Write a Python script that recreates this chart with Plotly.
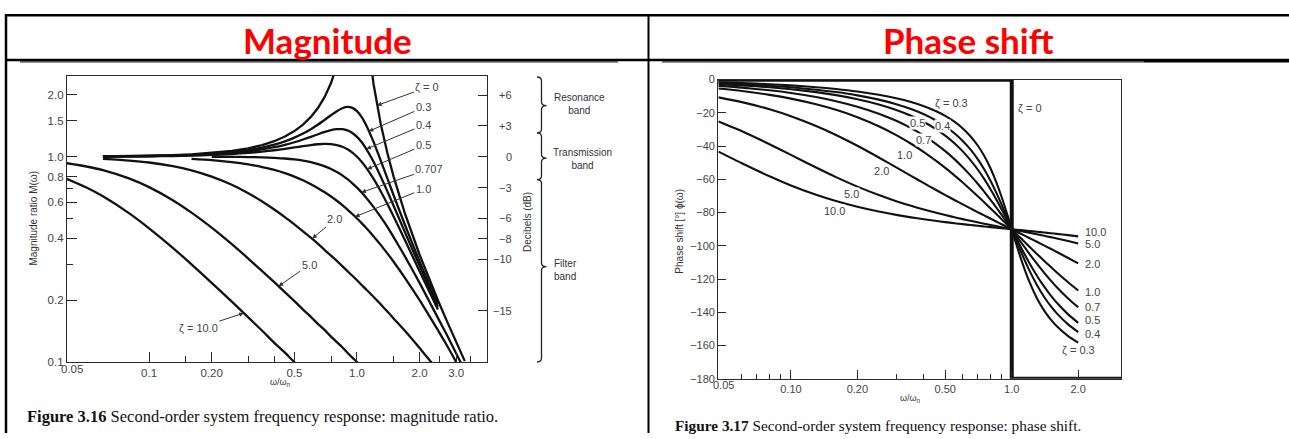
import math
import plotly.graph_objects as go

W, H = 1289, 439

# ---------------- Magnitude ratio data (Fig. 3.16) ----------------
R_MAG = [0.04, 0.05, 0.06, 0.08, 0.1, 0.13, 0.16, 0.2, 0.25, 0.3, 0.35, 0.4, 0.45, 0.5,
         0.55, 0.6, 0.65, 0.7, 0.75, 0.8, 0.85, 0.9, 0.95, 1.0, 1.05, 1.1, 1.2, 1.3, 1.4,
         1.5, 1.7, 2.0, 2.2, 2.45, 2.7, 3.0, 3.3]
N = None
M_Z0 = [N, N, 1.004, 1.006, 1.010, 1.017, 1.026, 1.042, 1.067, 1.099, 1.140, 1.190, 1.254, 1.333,
        1.434, 1.563, 1.732, 1.961, 2.286, 2.778, 3.604, N, N, N, N, 4.762, 2.273, 1.449, 1.042,
        0.800, 0.529, 0.333, 0.260, 0.200, 0.159, 0.125, 0.101]
M_Z03 = [N, N, 1.003, 1.005, 1.008, 1.014, 1.021, 1.034, 1.053, 1.078, 1.108, 1.145, 1.188, 1.238,
         1.296, 1.362, 1.435, 1.514, 1.593, 1.667, 1.722, 1.747, 1.729, 1.667, 1.567, 1.444, 1.185,
         0.960, 0.784, 0.649, 0.466, 0.309, 0.246, 0.192, N, N, N]
M_Z04 = [N, N, 1.002, 1.004, 1.007, 1.012, 1.018, 1.027, 1.043, 1.063, 1.086, 1.112, 1.143, 1.176,
         1.213, 1.250, 1.287, 1.320, 1.347, 1.362, 1.362, 1.343, 1.305, 1.250, 1.182, 1.105, 0.947,
         0.801, 0.678, 0.577, 0.429, 0.294, 0.237, 0.186, N, N, N]
M_Z05 = [N, N, 1.002, 1.003, 1.005, 1.008, 1.013, 1.020, 1.031, 1.044, 1.059, 1.075, 1.092, 1.109,
         1.126, 1.140, 1.150, 1.155, 1.152, 1.140, 1.118, 1.087, 1.047, 1.000, 0.948, 0.893, 0.782,
         0.679, 0.589, 0.512, 0.393, 0.277, 0.226, 0.180, N, N, N]
M_Z0707 = [N, N, N, N, N, N, N, 0.999, 0.998, 0.996, 0.993, 0.987, 0.980, 0.970,
           0.957, 0.941, 0.921, 0.898, 0.872, 0.842, 0.811, 0.777, 0.742, 0.707, 0.672, 0.637, 0.570,
           0.509, 0.455, 0.406, 0.327, 0.243, 0.202, 0.164, 0.136, 0.110, 0.091]
M_Z1 = [N, N, N, N, N, N, 0.975, 0.962, 0.941, 0.917, 0.891, 0.862, 0.832, 0.800,
        0.768, 0.735, 0.703, 0.671, 0.640, 0.610, 0.581, 0.553, 0.526, 0.500, 0.476, 0.453, 0.410,
        0.372, 0.338, 0.308, 0.257, 0.200, 0.171, 0.143, 0.121, 0.100, 0.084]
M_Z2 = [N, N, 0.976, 0.958, 0.937, 0.899, 0.858, 0.800, 0.730, 0.664, 0.605, 0.553, 0.508, 0.468,
        0.433, 0.403, 0.376, 0.351, 0.330, 0.311, 0.293, 0.277, 0.263, 0.250, 0.238, 0.227, 0.208,
        0.191, 0.176, 0.163, 0.142, 0.117, 0.104, 0.091, N, N, N]
M_Z5 = [0.930, 0.896, 0.860, 0.784, 0.711, 0.614, 0.534, 0.451, 0.375, 0.319, 0.277, 0.245, 0.219,
        0.198, 0.180, 0.166, 0.153, 0.143, 0.133, 0.125, 0.118, 0.111, 0.105, 0.100, 0.095,
        N, N, N, N, N, N, N, N, N, N, N, N]
M_Z10 = [0.782, 0.708, 0.641, 0.531, 0.448, 0.360, 0.299, 0.243, 0.197, 0.165, 0.142, 0.124, 0.111,
         0.0997, 0.0907, N, N, N, N, N, N, N, N, N, N, N, N, N, N, N, N, N, N, N, N, N, N]
MAG_SERIES = [M_Z0, M_Z03, M_Z04, M_Z05, M_Z0707, M_Z1, M_Z2, M_Z5, M_Z10]

# curve labels (text) and the point on each curve their arrow points to
MAG_LABELS = ["ζ = 0", "0.3", "0.4", "0.5", "0.707", "1.0", "2.0", "5.0", "ζ = 10.0"]
MAG_ARROW_R = [1.25, 1.14, 1.11, 1.12, 1.05, 0.98, 0.61, 0.42, 0.285]
MAG_ARROW_M = [1.778, 1.33, 1.09, 0.87, 0.67, 0.51, 0.40, 0.234, 0.173]

MAG_XTICKS = [0.1, 0.2, 0.5, 1.0, 2.0, 3.0]
MAG_XTICKTEXT = ["0.1", "0.20", "0.5", "1.0", "2.0", "3.0"]
MAG_XMINOR = [0.15, 0.3, 0.4, 0.75, 1.5, 2.5, 3.5]
MAG_YTICKS = [0.1, 0.2, 0.4, 0.6, 0.8, 1.0, 1.5, 2.0]
MAG_YTICKTEXT = ["0.1", "0.2", "0.4", "0.6", "0.8", "1.0", "1.5", "2.0"]
MAG_YMINOR = [0.3, 0.5, 0.7]
DB_TICKS = [6, 3, 0, -3, -6, -8, -10, -15]
DB_TICKTEXT = ["+6", "+3", "0", "−3", "−6", "−8", "−10", "−15"]

# ---------------- Phase shift data (Fig. 3.17) ----------------
R_PH = [0.047, 0.06, 0.08, 0.1, 0.13, 0.16, 0.2, 0.25, 0.3, 0.35, 0.4, 0.45, 0.5, 0.55, 0.6,
        0.65, 0.7, 0.75, 0.8, 0.85, 0.9, 0.95, 1.0, 1.05, 1.1, 1.2, 1.3, 1.4, 1.5, 1.6, 1.8, 2.0]
PH_Z03 = [-1.62, -2.07, -2.77, -3.47, -4.54, -5.63, -7.13, -9.09, -11.19, -13.46, -15.95, -18.70,
          -21.80, -25.32, -29.36, -34.03, -39.47, -45.81, -53.13, -61.45, -70.62, -80.29, -90.0,
          -99.24, -107.65, -121.43, -131.50, -138.81, -144.25, -148.39, -154.26, -158.20]
PH_Z04 = [-2.16, -2.76, -3.69, -4.62, -6.04, -7.48, -9.46, -12.04, -14.77, -17.70, -20.85, -24.29,
          -28.07, -32.24, -36.87, -41.99, -47.67, -53.90, -60.64, -67.80, -75.22, -82.69, -90.0,
          -96.96, -103.42, -114.62, -123.56, -130.60, -136.17, -140.63, -147.26, -151.93]
PH_Z05 = [-2.70, -3.45, -4.60, -5.77, -7.53, -9.33, -11.77, -14.93, -18.25, -21.75, -25.46, -29.43,
          -33.69, -38.26, -43.15, -48.38, -53.92, -59.74, -65.77, -71.92, -78.08, -84.14, -90.0,
          -95.58, -100.81, -110.14, -117.96, -124.44, -129.81, -134.27, -141.22, -146.31]
PH_Z07 = [-3.77, -4.82, -6.43, -8.05, -10.49, -12.95, -16.26, -20.48, -24.78, -29.18, -33.69, -38.31,
          -43.03, -47.83, -52.70, -57.60, -62.51, -67.38, -72.18, -76.87, -81.42, -85.81, -90.0,
          -93.99, -97.76, -104.68, -110.76, -116.10, -120.76, -124.85, -131.63, -136.97]
PH_Z1 = [-5.38, -6.87, -9.15, -11.42, -14.81, -18.18, -22.62, -28.07, -33.40, -38.58, -43.60, -48.46,
         -53.13, -57.62, -61.93, -66.05, -69.98, -73.74, -77.32, -80.73, -83.97, -87.06, -90.0,
         -92.79, -95.45, -100.39, -104.86, -108.92, -112.62, -115.99, -121.89, -126.87]
PH_Z2 = [-10.67, -13.54, -17.85, -22.00, -27.88, -33.30, -39.81, -46.85, -52.83, -57.92, -62.30,
         -66.10, -69.44, -72.41, -75.07, -77.48, -79.68, -81.70, -83.58, -85.33, -86.98, -88.53,
         -90.0, -91.40, -92.73, -95.24, -97.56, -99.73, -101.77, -103.70, -107.28, -110.56]
PH_Z5 = [-25.22, -31.05, -38.84, -45.29, -52.90, -58.66, -64.36, -69.44, -73.13, -75.93, -78.14,
         -79.95, -81.47, -82.77, -83.91, -84.92, -85.83, -86.66, -87.42, -88.13, -88.79, -89.41,
         -90.0, -90.56, -91.09, -92.10, -93.04, -93.92, -94.76, -95.57, -97.09, -98.53]
PH_Z10 = [-43.29, -50.30, -58.16, -63.66, -69.29, -73.06, -76.50, -79.38, -81.38, -82.85, -84.01,
          -84.94, -85.71, -86.37, -86.95, -87.46, -87.91, -88.33, -88.71, -89.06, -89.40, -89.71,
          -90.0, -90.28, -90.55, -91.05, -91.52, -91.96, -92.39, -92.79, -93.56, -94.29]
PH_SERIES = [PH_Z03, PH_Z04, PH_Z05, PH_Z07, PH_Z1, PH_Z2, PH_Z5, PH_Z10]
PH_END_LABELS = ["ζ = 0.3", "0.4", "0.5", "0.7", "1.0", "2.0", "5.0", "10.0"]
ZETA0_R = [0.04, 1.0, 1.0, 4.0]
ZETA0_PH = [0, 0, -180, -180]

PH_XTICKS = [0.1, 0.2, 0.5, 1.0, 2.0]
PH_XTICKTEXT = ["0.10", "0.20", "0.50", "1.0", "2.0"]
PH_XMINOR = [0.06, 0.07, 0.08, 0.09, 0.3, 0.4, 0.6, 0.7, 0.8, 0.9]
PH_YTICKS = [0, -20, -40, -60, -80, -100, -120, -140, -160, -180]

# ---------------- geometry helpers ----------------
def PX(x):
    return x / W

def PY(y):
    return 1 - y / H

MAG_BOX = (67, 487, 72, 366)            # left, right, top, bottom (px)
MAG_XR = [math.log10(0.0403), math.log10(4.22)]
MAG_YR = [-1.0, 0.393]
DB_R = [20 * MAG_YR[0], 20 * MAG_YR[1]]
PH_BOX = (718.3, 1121.3, 75.7, 383.3)
PH_XR = [math.log10(0.0469), math.log10(3.134)]
PH_YR = [-180, 0]


def mag_px(r, m):
    l, rr, t, b = MAG_BOX
    x = l + (math.log10(r) - MAG_XR[0]) / (MAG_XR[1] - MAG_XR[0]) * (rr - l)
    y = b - (math.log10(m) - MAG_YR[0]) / (MAG_YR[1] - MAG_YR[0]) * (b - t)
    return x, y


INK = "#111111"
AX = "#2a2a2a"
TXT = "#444444"
SANS = "Liberation Sans, Arial, sans-serif"

fig = go.Figure()

for i, m in enumerate(MAG_SERIES):
    fig.add_trace(go.Scatter(x=R_MAG, y=m, mode="lines", xaxis="x", yaxis="y",
                             line=dict(color=INK, width=2.3, shape="linear" if i == 0 else "spline",
                                       smoothing=0.6),
                             connectgaps=False, hoverinfo="skip", showlegend=False))

for ph in PH_SERIES:
    fig.add_trace(go.Scatter(x=R_PH, y=ph, mode="lines", xaxis="x3", yaxis="y3",
                             line=dict(color=INK, width=2.1, shape="spline", smoothing=0.6),
                             hoverinfo="skip", showlegend=False))
fig.add_trace(go.Scatter(x=ZETA0_R, y=ZETA0_PH, mode="lines", xaxis="x3", yaxis="y3",
                         line=dict(color=INK, width=4), hoverinfo="skip", showlegend=False))

axis_common = dict(showline=True, linecolor=AX, linewidth=1.3, mirror=True, ticks="inside",
                   tickcolor=AX, tickwidth=1.2, showgrid=False, zeroline=False,
                   tickfont=dict(family=SANS, size=11.5, color=TXT))

fig.update_layout(
    width=W, height=H, margin=dict(l=0, r=0, t=0, b=0), autosize=False,
    paper_bgcolor="white", plot_bgcolor="rgba(0,0,0,0)", showlegend=False,
    xaxis=dict(type="log", domain=[PX(MAG_BOX[0]), PX(MAG_BOX[1])], range=MAG_XR, anchor="y",
               tickvals=MAG_XTICKS, ticktext=MAG_XTICKTEXT, ticklen=10,
               minor=dict(tickvals=MAG_XMINOR, ticks="inside", ticklen=6, tickcolor=AX, tickwidth=1.1),
               **axis_common),
    yaxis=dict(type="log", domain=[PY(MAG_BOX[3]), PY(MAG_BOX[2])], range=MAG_YR, anchor="x",
               tickvals=MAG_YTICKS, ticktext=MAG_YTICKTEXT, ticklen=10,
               minor=dict(tickvals=MAG_YMINOR, ticks="inside", ticklen=6, tickcolor=AX, tickwidth=1.1),
               **axis_common),
    yaxis2=dict(overlaying="y", side="right", anchor="x", range=DB_R, tickvals=DB_TICKS,
                ticks="inside", ticklen=9, tickcolor=AX, tickwidth=1.2, showticklabels=False,
                showline=False, showgrid=False, zeroline=False),
    xaxis3=dict(type="log", domain=[PX(PH_BOX[0]), PX(PH_BOX[1])], range=PH_XR, anchor="y3",
                tickvals=PH_XTICKS, ticktext=PH_XTICKTEXT, ticklen=9,
                minor=dict(tickvals=PH_XMINOR, ticks="inside", ticklen=5, tickcolor=AX, tickwidth=1.1),
                **{**axis_common, "tickfont": dict(family=SANS, size=11, color=TXT)}),
    yaxis3=dict(domain=[PY(PH_BOX[3]), PY(PH_BOX[2])], range=PH_YR, anchor="x3",
                tickvals=PH_YTICKS, ticklen=8,
                **{**axis_common, "tickfont": dict(family=SANS, size=11, color=TXT)}),
)

ann = []

def text_px(x, y, s, size=11, color=TXT, xanchor="center", family=SANS, textangle=0, bg=None, align="center"):
    d = dict(x=PX(x), y=PY(y), xref="paper", yref="paper", text=s, showarrow=False,
             xanchor=xanchor, yanchor="middle", align=align, textangle=textangle,
             font=dict(family=family, size=size, color=color))
    if bg:
        d.update(bgcolor=bg, borderpad=0)
    ann.append(d)

# header titles
text_px(327, 35, "<b>Magnitude</b>", size=35, color="#ff0000", family="Lato, Open Sans, sans-serif")
text_px(968.5, 35, "<b>Phase shift</b>", size=35, color="#ff0000", family="Lato, Open Sans, sans-serif")

# magnitude curve labels with arrows
MAG_LBL_PX = [(427.5, 84), (423.3, 105), (423.3, 123.3), (423.3, 144), (429.3, 168.3),
              (423.3, 189), (335, 220), (309.2, 266.7), (198.3, 330.7)]
for lbl, (lx, ly), r, m in zip(MAG_LABELS, MAG_LBL_PX, MAG_ARROW_R, MAG_ARROW_M):
    tx, ty = mag_px(r, m)
    ann.append(dict(x=math.log10(r), y=math.log10(m), xref="x", yref="y", text=lbl,
                    showarrow=True, ax=lx - tx, ay=ly - ty, arrowhead=2, arrowsize=0.9,
                    arrowwidth=1.0, arrowcolor="#333", standoff=0, borderpad=1,
                    font=dict(family=SANS, size=11, color=TXT)))

# dB labels (right-aligned next to the right frame)
for v, t in zip(DB_TICKS, DB_TICKTEXT):
    ann.append(dict(x=PX(513.5), y=v, xref="paper", yref="y2", text=t, showarrow=False,
                    xanchor="right", yanchor="middle", font=dict(family=SANS, size=11, color=TXT)))

text_px(71.7, 373.5, "0.05", size=11.5)
text_px(33.5, 218, "Magnitude ratio M(ω)", size=10, color="#333", textangle=-90)
text_px(528, 222, "Decibels (dB)", size=10, color="#333", textangle=-90)
text_px(280, 387, "ω/ω<sub>n</sub>", size=9, color="#333")
text_px(551.5, 101, "Resonance<br>band", size=10, color="#333", xanchor="left")
text_px(550.5, 157, "Transmission<br>band", size=10, color="#333", xanchor="left")
text_px(551.5, 271, "Filter<br>band", size=10, color="#333", xanchor="left", align="left")

# phase plot labels
PH_MID = [("ζ = 0.3", 951.7, 100), ("0.5", 917, 120.7), ("0.4", 942, 123.3), ("0.7", 923.7, 137.3),
          ("1.0", 904.5, 152.7), ("2.0", 881.5, 170), ("5.0", 851.7, 193.3), ("10.0", 834, 211)]
for s, x, y in PH_MID:
    text_px(x, y, s, size=11, bg="white")
text_px(1030, 105, "ζ = 0", size=11)
PH_RIGHT = [(1096.7, 353.3), (1083.3, 337.3), (1083.3, 323.3), (1083.3, 309.3), (1083.3, 294),
            (1083.3, 265), (1083.3, 245), (1083.3, 232.7)]
for s, (x, y) in zip(PH_END_LABELS, PH_RIGHT):
    text_px(x, y, s, size=11, xanchor="right" if s.startswith("ζ") else "left")
text_px(723.3, 390, "0.05", size=11)
text_px(680, 232, "Phase shift [°] ϕ(ω)", size=10, color="#333", textangle=-90)
text_px(910, 404, "ω/ω<sub>n</sub>", size=9, color="#333")

# captions
text_px(25, 422.5, "<b>Figure 3.16</b> Second-order system frequency response: magnitude ratio.",
        size=16.5, color="#111", xanchor="left", family="Liberation Serif, Times New Roman, serif")
text_px(673, 431.5, "<b>Figure 3.17</b> Second-order system frequency response: phase shift.",
        size=15.3, color="#111", xanchor="left", family="Liberation Serif, Times New Roman, serif")

fig.update_layout(annotations=ann)

# ---------------- shapes: table borders and braces ----------------
shapes = []

def hline(y, x0, x1, w):
    shapes.append(dict(type="line", xref="paper", yref="paper", x0=PX(x0), x1=PX(x1),
                       y0=PY(y), y1=PY(y), line=dict(color="black", width=w)))

def vline(x, y0, y1, w):
    shapes.append(dict(type="line", xref="paper", yref="paper", x0=PX(x), x1=PX(x),
                       y0=PY(y0), y1=PY(y1), line=dict(color="black", width=w)))

hline(9.5, 5, W, 2.5)
hline(55.5, 5, W, 2.5)
vline(6, 8.5, H, 2.5)
vline(648.5, 8.5, H, 2)
hline(57.5, 20, 618, 1)
hline(57.5, 662, 1144, 1)
hline(57, 1144, W, 2)


def brace(x0, y1, y2, ym, tip=4.5, cusp=5, rad=4):
    def P(x, y):
        return f"{PX(x):.5f},{PY(y):.5f}"
    path = (f"M {P(x0 - tip, y1)} Q {P(x0, y1)} {P(x0, y1 + rad)} L {P(x0, ym - rad)} "
            f"Q {P(x0, ym)} {P(x0 + cusp, ym)} Q {P(x0, ym)} {P(x0, ym + rad)} "
            f"L {P(x0, y2 - rad)} Q {P(x0, y2)} {P(x0 - tip, y2)}")
    shapes.append(dict(type="path", xref="paper", yref="paper", path=path,
                       line=dict(color="#222", width=1.3)))

brace(541.5, 73, 130.5, 102.5)
brace(541.5, 130.5, 178.5, 156.5)
brace(541.5, 178.5, 366, 268)

fig.update_layout(shapes=shapes)

POST = (
    "var s=document.createElement('style');"
    "s.textContent='html,body{margin:0!important;padding:0!important;overflow:hidden!important;"
    "width:1289px;height:439px;}';"
    "document.head.appendChild(s);"
    "var g=document.getElementById('{plot_id}');"
    "g.style.position='absolute';g.style.left='0px';g.style.top='0px';"
)

fig.write_html("out.html", config={"displayModeBar": False, "responsive": False},
               post_script=POST)
